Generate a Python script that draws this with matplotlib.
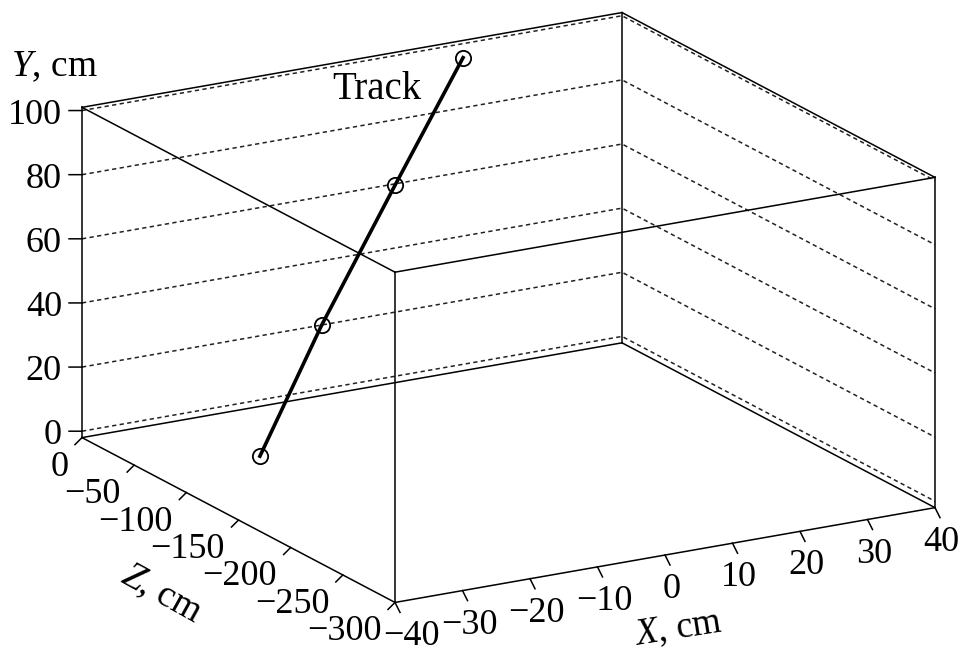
import matplotlib.pyplot as plt
import numpy as np
from mpl_toolkits.mplot3d import proj3d

plt.rcParams['font.family'] = ['Liberation Serif', 'DejaVu Serif']
plt.rcParams['mathtext.fontset'] = 'custom'
plt.rcParams['mathtext.rm'] = 'Liberation Serif'
plt.rcParams['mathtext.it'] = 'Liberation Serif:italic'

# detector volume, cm
x_lim = (-40, 40)
y_lim = (-2, 101)
z_lim = (-300, 0)

x_ticks = [-40, -30, -20, -10, 0, 10, 20, 30, 40]
y_ticks = [0, 20, 40, 60, 80, 100]
z_ticks = [0, -50, -100, -150, -200, -250, -300]

# track hits, cm
track_x = [-25.5, -13.3, 0.8, 13.5]
track_y = [0, 33, 68, 100]
track_z = [-76.7, -57.0, -36.3, -19.1]

W, H = 961, 653
TICK_FS = 26
LABEL_FS = 27


def fmt(v):
    return f'{v}'.replace('-', '\u2212')


fig = plt.figure(figsize=(W / 100, H / 100), dpi=100)
side = 500
ax = fig.add_axes([0.2, 0.1, side / W, side / H], projection='3d',
                  computed_zorder=False)
ax.set_proj_type('ortho')
ax.view_init(elev=17.7, azim=-120, roll=0)
ax.set_box_aspect((1.0, 1.004, 0.556))
# plot axes: x = X, y = Z, z = Y (vertical)
ax.set_xlim(*x_lim)
ax.set_ylim(*z_lim)
ax.set_zlim(*y_lim)
ax.set_axis_off()

# box
corners = [(x, z, y) for x in x_lim for z in z_lim for y in y_lim]
for i, a in enumerate(corners):
    for b in corners[i + 1:]:
        if sum(p != q for p, q in zip(a, b)) == 1:
            ax.plot(*zip(a, b), color='black', lw=1.1, zorder=2)

# dashed grid on back and right walls
for yv in y_ticks:
    ax.plot([x_lim[0], x_lim[1], x_lim[1]], [z_lim[1], z_lim[1], z_lim[0]],
            [yv, yv, yv], color='#222222', lw=1.1, ls=(0, (2.8, 2.2)), zorder=1)

# tick marks
for yv in y_ticks:
    ax.plot([x_lim[0], x_lim[0] - 1.44], [z_lim[1], z_lim[1] + 3.1], [yv, yv],
            color='black', lw=1.1)
for zv in z_ticks:
    ax.plot([x_lim[0], x_lim[0] - 1.04], [zv, zv], [y_lim[0], y_lim[0] - 1.8],
            color='black', lw=1.1)
for xv in x_ticks:
    ax.plot([xv, xv], [z_lim[0], z_lim[0] - 4.8], [y_lim[0], y_lim[0] - 2.3],
            color='black', lw=1.1)

# track
ax.plot(track_x, track_z, track_y, color='black', lw=2.6, marker='o', ms=11,
        mfc='none', mec='black', mew=1.3, zorder=3)

# fit the projected box into the frame of the original picture
fig.canvas.draw()
M = ax.get_proj()
cx, cz, cy = np.array(corners, dtype=float).T
px, py, _ = proj3d.proj_transform(cx, cz, cy, M)
cur = ax.transData.transform(np.column_stack([px, py]))
left, right, top, bottom = 82, 935, H - 13, H - 602
s = (right - left) / (cur[:, 0].max() - cur[:, 0].min())
cur_c = np.array([(cur[:, 0].max() + cur[:, 0].min()) / 2,
                  (cur[:, 1].max() + cur[:, 1].min()) / 2])
tgt_c = np.array([(left + right) / 2, (top + bottom) / 2])
t = tgt_c - s * cur_c
bb = ax.get_position()
o = s * np.array([bb.x0 * W, bb.y0 * H]) + t
size = s * bb.width * W
ax.set_position([o[0] / W, o[1] / H, size / W, size / H])


def proj(x, z, y):
    u, v, _ = proj3d.proj_transform(x, z, y, M)
    return u, v


for yv in y_ticks:
    ax.annotate(fmt(yv), xy=proj(x_lim[0], z_lim[1], yv), xytext=(-20, -13),
                textcoords='offset pixels', ha='right', va='baseline',
                fontsize=TICK_FS, annotation_clip=False)
for zv in z_ticks:
    ax.annotate(fmt(zv), xy=proj(x_lim[0], zv, y_lim[0]), xytext=(-13.5, -38),
                textcoords='offset pixels', ha='right', va='baseline',
                fontsize=TICK_FS, annotation_clip=False)
for xv in x_ticks:
    dx = 16 if xv == x_lim[0] else 6.5
    ax.annotate(fmt(xv), xy=proj(xv, z_lim[0], y_lim[0]), xytext=(dx, -43),
                textcoords='offset pixels', ha='center', va='baseline',
                fontsize=TICK_FS, annotation_clip=False)

fig.text(11 / W, (H - 76) / H, '$Y$, cm', ha='left', va='baseline',
         fontsize=LABEL_FS)
fig.text(161 / W, (H - 594) / H, '$Z$, cm', ha='center', va='center',
         rotation=-29, rotation_mode='anchor', fontsize=LABEL_FS)
fig.text(678 / W, (H - 629) / H, '$X$, cm', ha='center', va='center',
         rotation=9, rotation_mode='anchor', fontsize=LABEL_FS - 0.5)
fig.text(377 / W, (H - 99) / H, 'Track', ha='center', va='baseline',
         fontsize=LABEL_FS + 1)

fig.savefig('out.png', dpi=100, facecolor='white')
